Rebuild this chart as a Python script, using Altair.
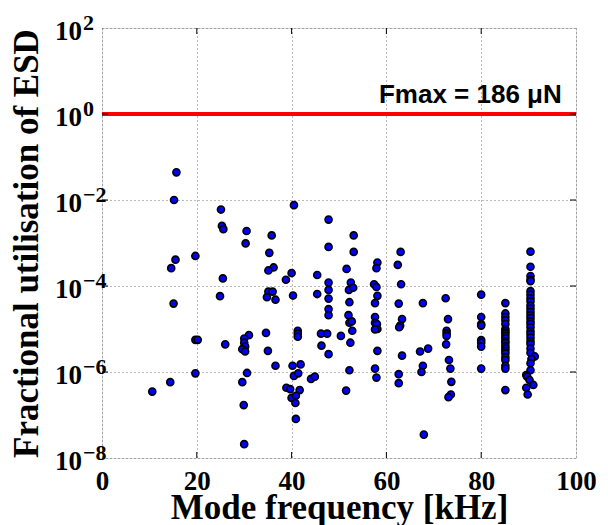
import altair as alt
import pandas as pd

# ---- data ----
freq = [15.7, 15.2, 25.1, 25.3, 25.6, 19.7, 15.5, 14.6, 25.5, 24.9, 15.1, 19.7, 20.2, 26.0, 19.7, 14.4, 10.6,
        30.5, 30.3, 35.8, 35.3, 36.2, 35.1, 40.5, 40.0, 38.8, 47.8, 47.8, 45.4, 47.8, 47.8, 47.8, 47.8, 47.8,
        45.4, 51.6, 35.1, 36.0, 34.8, 36.6, 40.3, 31.0, 30.0, 30.0, 30.2, 29.6, 30.2, 34.6, 35.0, 36.6,
        41.3, 41.3, 41.3, 46.2, 47.5, 50.4, 46.3, 47.8, 40.2, 41.9, 40.5, 41.4, 30.6, 29.6, 38.9, 39.7, 41.7,
        40.0, 40.9, 40.8, 44.1, 44.9, 51.5, 29.9, 40.9, 30.0,
        53.1, 53.1, 52.5, 52.1, 53.0, 52.2, 52.0, 52.2, 52.7, 52.8, 52.4, 52.2,
        58.1, 57.9, 57.4, 57.9, 58.1, 57.6, 57.6, 57.6, 58.0, 58.1, 57.6, 58.1, 57.6, 57.9,
        63.0, 62.4, 63.1, 62.6, 63.3, 62.9, 62.7, 63.3, 62.6, 62.6,
        67.7, 67.1, 68.8, 67.7, 67.4, 67.9,
        72.5, 73.0, 72.7, 72.7, 72.7, 72.6, 73.2, 73.5, 73.7, 73.6, 73.1,
        80.0, 80.0, 80.0, 80.0, 80.0, 80.0, 80.0, 80.0,
        85.1, 85.1, 85.1, 85.1, 85.1, 85.1, 85.1, 85.1, 85.1, 85.1, 85.1, 85.1, 85.1, 85.1, 85.1, 85.1,
        85.1, 85.1, 85.1, 85.1, 85.1,
        90.4, 90.4, 90.4, 90.4, 90.4, 90.4, 90.4, 90.4, 90.4, 90.4, 90.4, 90.4, 90.4, 90.4, 90.4, 90.4,
        90.4, 90.4, 90.4, 90.4, 90.4, 90.4, 90.4, 90.4, 91.3, 90.6, 90.4, 90.4, 89.5, 89.7, 90.2, 91.0,
        89.5, 89.8]

util = [4.4e-2, 1.0e-2, 6.0e-3, 2.5e-3, 2.1e-3, 5.0e-4, 4.1e-4, 2.6e-4, 1.5e-4, 5.8e-5, 3.9e-5, 5.6e-6,
        5.6e-6, 4.4e-6, 9.3e-7, 5.8e-7, 3.5e-7,
        1.9e-3, 9.8e-4, 1.5e-3, 5.9e-4, 2.7e-4, 2.3e-4, 7.6e-3, 2.0e-4, 1.4e-4, 3.5e-3, 8.1e-4, 1.8e-4,
        1.2e-4, 8.1e-5, 5.1e-5, 2.9e-5, 2.1e-5,
        6.5e-5, 2.5e-4, 7.4e-5, 7.4e-5, 5.5e-5, 4.8e-5, 6.0e-5, 7.2e-6, 6.0e-6, 4.8e-6, 3.9e-6, 3.4e-6,
        3.0e-6, 8.1e-6, 3.1e-6, 1.4e-6,
        9.1e-6, 7.8e-6, 6.6e-6, 7.8e-6, 7.8e-6, 6.9e-6, 4.1e-6, 2.6e-6, 1.4e-6, 1.5e-6, 8.1e-7, 9.3e-7,
        9.5e-7, 5.8e-7, 4.3e-7, 4.0e-7, 3.8e-7,
        2.5e-7, 2.8e-7, 1.9e-7, 6.9e-7, 7.8e-7, 3.7e-7, 1.7e-7, 8.1e-8, 2.1e-8,
        1.5e-3, 6.2e-4, 1.2e-4, 8.1e-5, 9.1e-5, 4.2e-5, 2.1e-5, 1.4e-5, 1.5e-5, 9.1e-6, 4.8e-6, 1.1e-6,
        3.5e-4, 2.6e-4, 1.1e-4, 9.5e-5, 5.9e-5, 4.0e-5, 1.9e-5, 1.4e-5, 1.3e-5, 1.0e-5, 9.8e-6, 3.1e-6,
        1.2e-6, 7.4e-7,
        6.2e-4, 3.1e-4, 1.1e-4, 3.9e-5, 1.7e-5, 1.2e-5, 1.1e-5, 2.4e-6, 8.9e-7, 5.5e-7,
        4.0e-5, 3.0e-6, 3.5e-6, 1.4e-6, 1.0e-6, 3.5e-8,
        5.2e-5, 1.7e-5, 9.1e-6, 7.9e-6, 6.9e-6, 4.4e-6, 1.9e-6, 1.2e-6, 5.9e-7, 3.0e-7, 2.6e-7,
        6.3e-5, 1.9e-5, 1.3e-5, 1.2e-5, 5.5e-6, 4.8e-6, 3.9e-6, 1.2e-6,
        4.0e-5, 2.3e-5, 1.9e-5, 1.6e-5, 1.3e-5, 1.0e-5, 8.9e-6, 7.9e-6, 6.9e-6, 6.0e-6, 5.2e-6, 4.7e-6,
        4.0e-6, 3.5e-6, 3.1e-6, 2.7e-6,
        2.2e-6, 1.9e-6, 1.4e-6, 1.2e-6, 3.8e-7,
        6.3e-4, 2.8e-4, 1.7e-4, 1.4e-4, 1.3e-4, 7.6e-5, 6.3e-5, 5.2e-5, 4.4e-5, 3.5e-5, 3.0e-5, 2.5e-5,
        2.1e-5, 1.8e-5, 1.5e-5, 1.3e-5,
        1.1e-5, 8.9e-6, 7.6e-6, 6.3e-6, 5.2e-6, 4.5e-6, 3.5e-6, 2.8e-6, 2.3e-6, 2.0e-6, 1.6e-6, 1.1e-6,
        8.5e-7, 7.8e-7, 6.5e-7, 5.0e-7,
        4.3e-7, 3.0e-7]

fmax_level = [1.0]
fmax_label = ["Fmax = 186 \u03bcN"]
fmax_label_x = [97.0]

x_ticks = [0, 20, 40, 60, 80, 100]
x_inner_ticks = [20, 40, 60, 80]
y_ticks = [1e-8, 1e-6, 1e-4, 1e-2, 1e0, 1e2]
y_inner_ticks = [1e-6, 1e-4, 1e-2, 1e0]
y_base_labels = ["10"] * 6
y_exp_labels = ["\u22128", "\u22126", "\u22124", "\u22122", "0", "2"]

# ---- chart ----
W, H = 474, 430
SERIF = "Liberation Serif"
SANS = "Liberation Sans"

xs = alt.Scale(domain=[0, 100], nice=False, zero=False)
ys = alt.Scale(type="log", domain=[1e-8, 1e2], nice=False)

xaxis = alt.Axis(values=x_ticks, grid=True, gridColor="#333333", gridDash=[1, 3], gridOpacity=0.7,
                 ticks=False, tickSize=0, domain=False, labelFlush=False, labelOverlap=False,
                 labelFont=SERIF, labelFontWeight="bold", labelFontSize=27, labelColor="black",
                 labelBaseline="alphabetic", labelPadding=31,
                 title="Mode frequency [kHz]", titleFont=SERIF, titleFontWeight="bold",
                 titleFontSize=35, titleColor="black", titleY=60, titleBaseline="alphabetic")
yaxis = alt.Axis(values=y_ticks, grid=True, gridColor="#333333", gridDash=[1, 3], gridOpacity=0.7,
                 ticks=False, tickSize=0, domain=False, labels=False,
                 title="Fractional utilisation of ESD", titleFont=SERIF, titleFontWeight="bold",
                 titleFontSize=35, titleColor="black", titleX=-65, titleY=H / 2, titleAngle=270,
                 titleAlign="center", titleBaseline="alphabetic")

df = pd.DataFrame({"f": freq, "u": util})

points = alt.Chart(df).mark_circle(fill="#0000ff", stroke="black", strokeWidth=1.6, size=50,
                                   opacity=1).encode(
    x=alt.X("f:Q", scale=xs, axis=xaxis),
    y=alt.Y("u:Q", scale=ys, axis=yaxis),
)

red = alt.Chart(pd.DataFrame({"u": fmax_level})).mark_rule(color="#ff0000", strokeWidth=3.8).encode(
    y=alt.Y("u:Q", scale=ys, axis=yaxis)
)

label = alt.Chart(pd.DataFrame({"f": fmax_label_x, "u": fmax_level, "t": fmax_label})).mark_text(
    align="right", baseline="alphabetic", dy=-11, font=SANS, fontWeight="bold", fontSize=26,
    color="black").encode(
    x=alt.X("f:Q", scale=xs, axis=xaxis),
    y=alt.Y("u:Q", scale=ys, axis=yaxis),
    text="t:N",
)

xt = pd.DataFrame({"f": x_inner_ticks})
xtick_bot = alt.Chart(xt).mark_rule(color="black", strokeWidth=1).encode(
    x=alt.X("f:Q", scale=xs, axis=xaxis), y=alt.value(H), y2=alt.value(H - 6))
xtick_top = alt.Chart(xt).mark_rule(color="black", strokeWidth=1).encode(
    x=alt.X("f:Q", scale=xs, axis=xaxis), y=alt.value(0), y2=alt.value(6))

yt = pd.DataFrame({"u": y_inner_ticks})
ytick_l = alt.Chart(yt).mark_rule(color="black", strokeWidth=1).encode(
    y=alt.Y("u:Q", scale=ys, axis=yaxis), x=alt.value(0), x2=alt.value(6))
ytick_r = alt.Chart(yt).mark_rule(color="black", strokeWidth=1).encode(
    y=alt.Y("u:Q", scale=ys, axis=yaxis), x=alt.value(W), x2=alt.value(W - 6))

ylab_df = pd.DataFrame({"u": y_ticks, "b": y_base_labels, "e": y_exp_labels})
ylab_base = alt.Chart(ylab_df).mark_text(align="right", baseline="alphabetic", dy=11.5, font=SERIF,
                                         fontWeight="bold", fontSize=27, color="black").encode(
    y=alt.Y("u:Q", scale=ys, axis=yaxis), x=alt.value(-20), text="b:N")
ylab_exp = alt.Chart(ylab_df).mark_text(align="left", baseline="alphabetic", dy=1.5, font=SERIF,
                                        fontWeight="bold", fontSize=22, color="black").encode(
    y=alt.Y("u:Q", scale=ys, axis=yaxis), x=alt.value(-19), text="e:N")

chart = alt.layer(
    red, points, xtick_bot, xtick_top, ytick_l, ytick_r, label, ylab_base, ylab_exp
).properties(
    width=W, height=H,
    autosize=alt.AutoSizeParams(type="none"),
    padding={"left": 94, "top": 20, "right": 20, "bottom": 67},
).configure_view(stroke="black", strokeWidth=1.5).configure(background="white")

chart.save("out.html", embed_options={"renderer": "svg", "actions": False})
